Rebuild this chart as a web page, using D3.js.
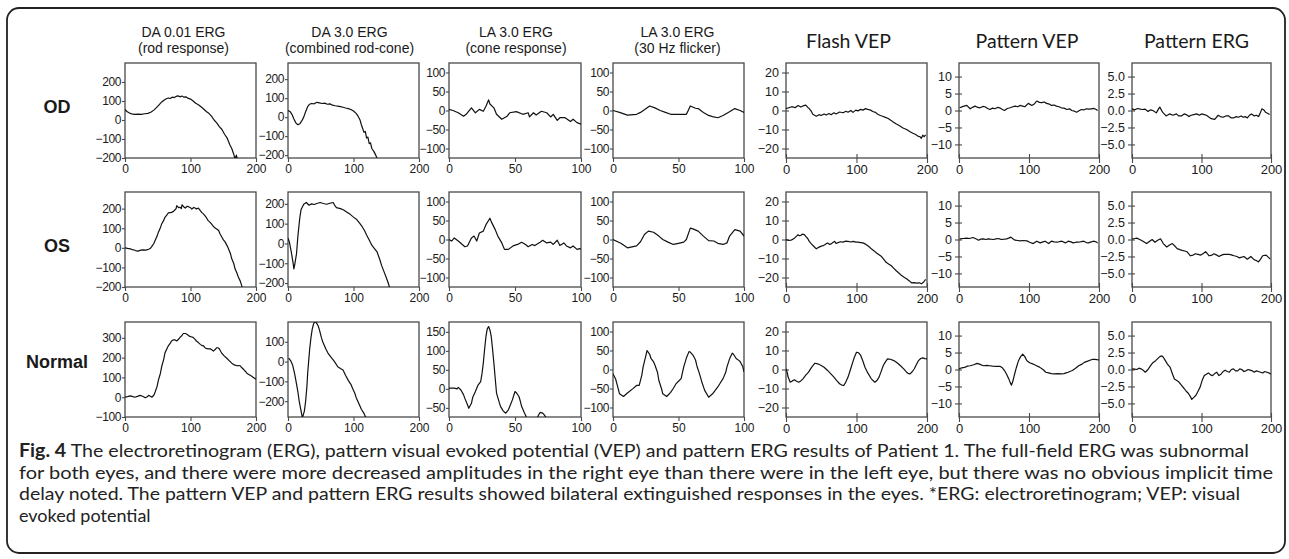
<!DOCTYPE html>
<html>
<head>
<meta charset="utf-8">
<script src="https://cdn.jsdelivr.net/npm/d3@7"></script>
<style>
  body { margin: 0; background: #fff; }
  svg { display: block; }
</style>
</head>
<body>
<svg id="fig" width="1289" height="559"></svg>
<script>
// row / column labels
const rowLabels = ['OD', 'OS', 'Normal']
const colTitles = [
  ['DA 0.01 ERG', '(rod response)'],
  ['DA 3.0 ERG', '(combined rod-cone)'],
  ['LA 3.0 ERG', '(cone response)'],
  ['LA 3.0 ERG', '(30 Hz flicker)'],
  ['Flash VEP'],
  ['Pattern VEP'],
  ['Pattern ERG']
]

// x domains + ticks (ms)
const xLong = [0, 200]
const xShort = [0, 100]
const xTicksLong = [0, 100, 200]
const xTicksShort = [0, 50, 100]

// y domains per row (uV)
const yDomOD = [[-200, 300], [-215, 285], [-125, 125], [-125, 125], [-25, 25], [-14, 14], [-7, 7]]
const yDomOS = [[-200, 285], [-220, 260], [-125, 125], [-125, 125], [-25, 25], [-14, 14], [-7, 7]]
const yDomNL = [[-100, 380], [-280, 200], [-74, 176], [-125, 125], [-25, 25], [-14, 14], [-7, 7]]

const yTicksRod = [-200, -100, 0, 100, 200]
const yTicksRodNL = [-100, 0, 100, 200, 300]
const yTicksMixNL = [-200, -100, 0, 100]
const yTicksCone = [-100, -50, 0, 50, 100]
const yTicksConeNL = [-50, 0, 50, 100, 150]
const yTicksFlash = [-20, -10, 0, 10, 20]
const yTicksPVep = [-10, -5, 0, 5, 10]
const yTicksPErg = [-5, -2.5, 0, 2.5, 5]

// ---- traces, [ms, uV] ----
const odRod = [[0,55],[3,45],[6,38],[10,32],[15,30],[20,31],[25,30],[30,33],[35,35],[40,42],[44,52],[48,65],[52,80],[56,95],[60,105],[63,112],[66,116],[69,113],[72,120],[75,118],[78,124],[81,127],[84,122],[87,126],[90,120],[93,122],[96,115],[100,110],[104,100],[108,88],[112,80],[116,70],[120,58],[124,45],[128,35],[132,20],[136,0],[140,-15],[144,-35],[148,-50],[152,-75],[156,-95],[160,-130],[163,-150],[166,-180],[168,-205],[170,-185],[172,-210]]
const odMixed = [[0,35],[3,30],[6,15],[9,-10],[12,-30],[15,-40],[18,-35],[21,-20],[24,0],[27,30],[30,55],[33,68],[36,72],[40,70],[44,78],[48,75],[52,72],[56,74],[60,68],[64,70],[68,63],[72,60],[76,58],[80,55],[84,52],[88,48],[92,45],[96,40],[100,32],[104,20],[107,5],[110,-15],[112,-40],[114,-60],[116,-80],[118,-75],[120,-110],[122,-105],[124,-140],[126,-135],[128,-165],[131,-180],[134,-200],[137,-225]]
const odCone = [[0,3],[3,0],[7,-6],[11,-15],[13,-10],[17,7],[20,-6],[23,3],[26,-2],[28,11],[30,28],[31,17],[34,7],[36,-10],[40,-23],[44,-15],[46,-6],[51,-3],[56,-10],[60,-6],[61,-17],[64,-6],[66,-12],[70,-2],[74,-6],[77,-17],[79,-10],[82,-26],[84,-19],[88,-19],[92,-29],[94,-23],[97,-32],[100,-36]]
const odFlicker = [[0,0],[5,-5],[11,-12],[18,-10],[21,-5],[24,2],[28,12],[32,7],[36,0],[40,-5],[44,-10],[49,-10],[56,-10],[57,-3],[59,12],[63,6],[65,5],[69,-5],[73,-13],[76,-16],[80,-19],[84,-13],[88,-5],[93,5],[97,0],[100,-5]]
const odFlashVep = [[0,1],[5,1.6],[9,2],[13,1.5],[17,2.6],[21,1.8],[24,2.4],[28,2.8],[31,1.6],[33,1],[36,-0.5],[38,-2],[43,-3],[47,-2.2],[50,-2.6],[54,-1.8],[57,-2.4],[61,-1.6],[64,-2.2],[68,-1.2],[71,-1.8],[76,-0.8],[81,-1.2],[85,-0.4],[88,-0.9],[92,0],[95,-1],[99,0.2],[102,-0.2],[106,0.6],[109,0.2],[113,1],[116,0.6],[120,0.2],[123,-0.5],[127,-1],[130,-2],[134,-2.6],[137,-3],[141,-3.6],[145,-4.2],[149,-5.2],[152,-6],[156,-7],[161,-8],[166,-9.2],[171,-10],[176,-11.2],[180,-12],[184,-12.6],[187,-13.5],[190,-13.8],[192,-14.6],[194,-13],[196,-13.8],[198,-12.8]]
const odPatVep = [[1,0.8],[6,1.2],[11,1.5],[16,0.5],[20,1],[23,1.3],[27,0.9],[30,0.8],[34,1.2],[37,1.1],[41,0.6],[44,0.3],[48,0.7],[51,0.5],[55,0.9],[58,0.8],[62,0.3],[65,0],[69,0.6],[73,0.8],[77,1.1],[80,1.3],[84,1.1],[87,1.5],[91,1.3],[94,1.1],[99,2.1],[104,1.5],[108,2],[111,2.8],[115,2.4],[118,2.3],[122,2.5],[125,2.1],[129,1.9],[132,1.5],[136,1.6],[139,1.3],[143,1.1],[146,0.8],[150,0.7],[154,0.3],[158,0.5],[161,0],[165,-0.2],[168,-0.5],[172,0],[175,0.3],[179,0.2],[182,0.5],[186,0.4],[189,0.5],[193,0.6],[196,0.3],[198,0]]
const odPatErg = [[0,0.24],[4,0.1],[8,0.3],[12,0.2],[15,0.15],[19,0.2],[23,-0.15],[27,0.1],[30,0],[35,-0.35],[38,0.2],[40,0.5],[44,-0.25],[49,-0.8],[54,-0.5],[59,-0.7],[64,-0.5],[67,-0.8],[71,-0.8],[75,-0.5],[78,-0.6],[82,-0.9],[85,-0.7],[89,-0.6],[93,-0.5],[97,-0.7],[100,-0.5],[104,-0.6],[107,-0.7],[111,-1],[114,-1.2],[119,-1.3],[124,-0.7],[127,-0.9],[131,-1],[135,-0.8],[139,-0.8],[143,-1.1],[146,-1.1],[150,-0.9],[153,-1],[157,-0.8],[160,-1],[163,-0.9],[166,-1.1],[169,-0.7],[172,-0.5],[176,-0.8],[179,-0.7],[182,-0.9],[184,-0.5],[187,0.25],[190,0.05],[192,-0.25],[195,-0.4],[198,-0.6]]

const osRod = [[0,0],[4,-3],[8,-5],[11,-9],[13,-10],[16,-14],[20,-17],[24,-12],[28,-10],[32,-12],[36,-7],[39,-2],[41,7],[44,22],[46,37],[49,60],[51,80],[54,102],[56,122],[59,140],[61,156],[64,168],[66,178],[69,180],[71,181],[74,186],[76,193],[78,200],[79,215],[82,205],[84,207],[86,200],[87,220],[90,208],[92,203],[95,212],[97,210],[100,205],[102,198],[105,206],[107,203],[109,198],[112,203],[115,190],[117,181],[120,172],[122,164],[125,150],[127,139],[130,130],[132,122],[135,110],[137,102],[140,96],[143,88],[145,72],[148,54],[150,42],[153,29],[156,10],[158,-5],[161,-30],[163,-56],[166,-80],[168,-107],[171,-130],[173,-149],[176,-170],[178,-192],[181,-220]]
const osMixed = [[0,26],[2,9],[5,-43],[8,-103],[9,-129],[10,-112],[13,-52],[15,34],[18,129],[20,172],[24,198],[28,207],[32,193],[36,200],[40,197],[44,202],[49,207],[54,202],[59,198],[64,203],[69,207],[71,194],[74,181],[80,176],[85,169],[90,158],[95,147],[100,133],[105,121],[109,104],[113,86],[117,64],[120,43],[124,17],[128,-9],[132,-26],[136,-43],[140,-80],[143,-112],[147,-146],[151,-181],[153,-200],[156,-233]]
const osCone = [[0,0],[2,-4],[4,4],[7,-4],[9,-10],[12,-19],[14,-17],[17,4],[19,9],[21,-4],[23,17],[26,22],[28,39],[31,56],[32,47],[35,26],[37,9],[40,-9],[42,-26],[45,-26],[49,-16],[52,-13],[55,-7],[58,-13],[60,-19],[63,-13],[65,-16],[69,-7],[71,-2],[74,-9],[77,-7],[79,-13],[82,-2],[84,-16],[87,-9],[89,-17],[92,-22],[94,-17],[97,-26],[99,-24],[100,-25]]
const osFlicker = [[0,0],[6,-10],[11,-22],[18,-17],[21,-6],[24,13],[27,22],[31,19],[35,9],[38,0],[42,-7],[46,-13],[50,-10],[54,-7],[56,0],[59,30],[61,28],[65,22],[69,9],[73,-3],[77,-4],[80,-10],[84,-13],[87,-9],[89,9],[93,26],[97,22],[100,9]]
const osFlashVep = [[0,0],[4,-0.5],[7,-0.4],[10,0.2],[12,0.7],[15,1.8],[17,2.5],[19,2],[21,2.1],[23,2.8],[26,2.6],[28,1.6],[31,0.4],[33,-1],[36,-2.3],[40,-3.8],[43,-4.9],[47,-4],[50,-3.5],[53,-3.2],[55,-2.8],[57,-2.2],[59,-1.8],[62,-2.6],[64,-2.3],[67,-1.4],[69,-1],[71,-2],[73,-1.8],[77,-1.2],[81,-1.4],[84,-0.9],[88,-1],[92,-1.3],[95,-1],[99,-1.4],[102,-1.4],[106,-1.6],[109,-1.8],[112,-2.3],[114,-2.8],[118,-3.8],[121,-4.9],[125,-6],[128,-7],[132,-8],[135,-8.8],[139,-10.6],[142,-12],[146,-13],[149,-13.7],[153,-15.2],[156,-16.3],[160,-17.6],[164,-19],[168,-20],[171,-20.7],[175,-21.8],[178,-22.8],[182,-22.7],[185,-23],[189,-22.8],[192,-23.3],[195,-22.5],[198,-21]]
const osPatVep = [[1,0.2],[6,0.3],[11,0.4],[15,0.3],[20,0.6],[24,0.2],[28,-0.2],[31,0.1],[35,0.2],[38,0],[42,0.2],[45,0.1],[49,0],[53,0.2],[56,0.3],[59,0.1],[61,0],[65,0.1],[68,0.2],[71,0.4],[74,0.7],[77,0.2],[80,-0.2],[84,-0.3],[87,-0.4],[92,-0.3],[97,-0.4],[101,-0.8],[106,-1.2],[111,-0.5],[116,-1],[120,-0.7],[123,-0.5],[128,-1.2],[132,-0.5],[136,-0.7],[140,-0.8],[144,-0.6],[147,-0.5],[152,-1],[156,-0.5],[160,-0.7],[163,-1],[167,-0.8],[171,-0.8],[175,-0.6],[178,-0.5],[182,-0.9],[185,-1],[189,-0.7],[192,-0.5],[196,-0.7],[198,-1]]
const osPatErg = [[0,0.1],[4,0.15],[7,0.2],[11,0],[14,-0.15],[18,-0.4],[21,-0.6],[25,-0.3],[29,0],[33,-0.4],[37,-0.1],[41,0.1],[45,-0.6],[50,-1.1],[54,-0.8],[58,-0.6],[62,-1],[65,-1.35],[69,-1.5],[72,-1.6],[76,-1.7],[79,-1.8],[84,-2.4],[88,-2.3],[91,-2.1],[95,-2.2],[99,-2.3],[102,-2.1],[106,-1.8],[111,-2.4],[115,-2.3],[118,-2.1],[122,-2.3],[125,-2.5],[129,-2.3],[132,-2.2],[136,-2.2],[140,-2.2],[144,-2.3],[147,-2.4],[151,-2.5],[154,-2.7],[158,-2.6],[161,-2.5],[166,-2.9],[171,-2.5],[176,-3],[179,-3.1],[182,-3.3],[185,-2.9],[188,-2.4],[193,-2.3],[196,-2.6],[199,-2.9]]

const nlRod = [[0,0],[4,3],[8,7],[11,4],[15,0],[19,4],[23,9],[27,5],[31,-3],[34,2],[36,9],[39,5],[41,0],[44,10],[46,26],[49,55],[51,86],[54,120],[56,155],[59,190],[61,224],[64,245],[66,259],[69,272],[71,284],[74,290],[76,290],[79,284],[82,294],[84,302],[87,312],[89,322],[92,322],[94,319],[97,312],[99,307],[102,304],[104,302],[107,292],[109,284],[112,276],[115,267],[117,262],[120,259],[122,250],[125,245],[128,244],[130,245],[133,238],[135,233],[138,242],[140,250],[142,250],[144,245],[146,232],[148,221],[151,210],[155,198],[159,185],[163,172],[167,163],[171,159],[173,160],[176,159],[178,150],[181,141],[184,130],[186,121],[189,115],[193,107],[196,100],[200,91]]
const nlMixed = [[1,17],[4,5],[7,-17],[10,-60],[12,-95],[15,-150],[17,-198],[20,-250],[22,-284],[25,-250],[27,-198],[29,-120],[30,-60],[32,20],[33,60],[35,120],[37,164],[39,190],[41,202],[43,198],[46,181],[48,160],[51,121],[53,100],[56,78],[58,62],[61,43],[65,25],[69,9],[72,-5],[76,-26],[80,-35],[84,-43],[88,-70],[92,-95],[96,-115],[99,-138],[102,-160],[104,-181],[108,-210],[112,-241],[116,-262],[119,-284]]
const nlCone = [[0,2],[4,2],[6,0],[7,4],[9,-3],[11,-15],[12,-25],[14,-42],[15,-51],[17,-38],[18,-22],[20,-7],[22,10],[24,19],[25,40],[26,68],[27,105],[28,138],[29,158],[30,164],[31,155],[32,138],[33,105],[34,68],[35,28],[36,-11],[38,-35],[39,-46],[41,-58],[43,-64],[45,-55],[47,-38],[48,-29],[50,-7],[51,-10],[53,-20],[54,-32],[55,-46],[57,-62],[59,-77],[61,-86],[63,-90],[65,-86],[66,-82],[68,-68],[69,-62],[71,-64],[72,-68],[74,-77]]
const nlFlicker = [[0,-11],[2,-25],[3,-38],[5,-64],[8,-71],[11,-62],[15,-51],[18,-42],[20,-42],[22,-15],[23,7],[25,35],[26,50],[28,40],[29,29],[31,20],[32,12],[34,-8],[35,-29],[37,-50],[38,-64],[41,-71],[44,-60],[46,-50],[48,-38],[50,-31],[52,-24],[54,7],[56,30],[58,47],[59,46],[61,38],[63,25],[64,10],[66,-11],[68,-35],[70,-55],[73,-73],[76,-64],[78,-55],[80,-46],[82,-35],[84,-24],[86,-8],[87,7],[89,28],[91,43],[92,40],[94,29],[96,24],[97,21],[99,8],[100,-6]]
const nlFlashVep = [[0,0.4],[2,-2],[3,-4],[6,-6.7],[9,-6],[12,-5.4],[15,-6.2],[18,-6.7],[21,-6],[24,-4.9],[28,-3],[32,-1.4],[36,1],[41,3.3],[45,3],[50,2.1],[54,1.2],[59,-0.5],[63,-2],[68,-4],[72,-5.8],[76,-7.5],[79,-8.2],[82,-8.4],[85,-6.5],[88,-4],[91,-0.5],[94,3],[97,6.5],[100,9.1],[103,8.8],[106,7.4],[109,4.5],[112,1.2],[116,-1.8],[121,-4.9],[126,-6.7],[129,-5.8],[132,-4],[135,-1],[138,2.1],[141,4],[144,5.6],[148,5.4],[153,4.7],[158,3.4],[162,2.1],[167,0.3],[171,-1.4],[174,-2.2],[176,-2.3],[179,-1.2],[182,0.4],[185,2.6],[188,4.7],[191,5.8],[194,6.1],[197,5.7],[200,5.6]]
const nlPatVep = [[0,0.2],[4,0.5],[8,0.6],[12,1],[16,1.1],[21,1.4],[26,1.8],[30,1.5],[35,1.1],[40,1.2],[44,1.1],[48,1],[53,0.9],[59,0.9],[62,0.5],[65,-0.3],[68,-1.4],[71,-2.7],[73,-3.8],[75,-4.6],[77,-3.4],[79,-1.7],[82,0.6],[85,2.6],[88,3.8],[91,4.5],[94,3.8],[97,2.6],[101,2],[106,1.6],[110,1.2],[115,0.7],[120,0],[124,-0.8],[128,-1],[132,-1.2],[136,-1.3],[141,-1.2],[146,-1.3],[150,-1.2],[153,-1],[156,-0.8],[159,-0.5],[162,-0.3],[166,0.3],[171,1.1],[175,1.5],[179,2.1],[183,2.4],[188,2.8],[191,3],[194,3],[197,2.9],[200,2.8]]
const nlPatErg = [[0,0.1],[4,0.05],[7,0],[10,0.2],[13,0.1],[16,-0.1],[19,-0.4],[23,0],[27,0.6],[30,1],[34,1.3],[37,1.6],[40,1.9],[43,2],[45,1.8],[48,1.3],[51,0.8],[55,0.3],[58,-0.6],[61,-1.4],[64,-1.6],[67,-1.8],[71,-2.3],[75,-2.8],[78,-3.2],[81,-3.5],[84,-4],[86,-4.4],[89,-4.1],[92,-3.8],[95,-3.2],[98,-2.6],[101,-1.6],[104,-0.9],[107,-0.7],[110,-0.5],[113,-0.8],[116,-0.9],[119,-0.6],[122,-0.4],[125,-0.9],[128,-0.7],[131,-0.3],[134,-0.1],[137,-0.3],[140,-0.4],[143,0],[146,0.1],[149,-0.2],[152,-0.2],[155,0.1],[158,0],[161,-0.3],[164,-0.2],[167,0],[170,-0.1],[173,-0.2],[176,-0.4],[179,-0.2],[182,-0.3],[185,-0.4],[188,-0.5],[191,-0.3],[194,-0.4],[197,-0.5],[200,-0.7]]

const traces = [
  [odRod, odMixed, odCone, odFlicker, odFlashVep, odPatVep, odPatErg],
  [osRod, osMixed, osCone, osFlicker, osFlashVep, osPatVep, osPatErg],
  [nlRod, nlMixed, nlCone, nlFlicker, nlFlashVep, nlPatVep, nlPatErg]
]
const yDoms = [yDomOD, yDomOS, yDomNL]
const yTicks = [
  [yTicksRod, yTicksRod, yTicksCone, yTicksCone, yTicksFlash, yTicksPVep, yTicksPErg],
  [yTicksRod, yTicksRod, yTicksCone, yTicksCone, yTicksFlash, yTicksPVep, yTicksPErg],
  [yTicksRodNL, yTicksMixNL, yTicksConeNL, yTicksCone, yTicksFlash, yTicksPVep, yTicksPErg]
]

const captionFirst = 'The electroretinogram (ERG), pattern visual evoked potential (VEP) and pattern ERG results of Patient 1. The full-field ERG was subnormal'
const captionLines = [
  'for both eyes, and there were more decreased amplitudes in the right eye than there were in the left eye, but there was no obvious implicit time',
  'delay noted. The pattern VEP and pattern ERG results showed bilateral extinguished responses in the eyes. *ERG: electroretinogram; VEP: visual',
  'evoked potential'
]

// ---- layout ----
const colX = [[125, 256], [288, 419], [449, 581], [613, 744], [786, 927], [959, 1099], [1132, 1271]]
const rowY = [[63, 158], [192, 287], [322, 417]]
const rowLabelY = [113, 252, 368]
const titleDx = [-7, -4, 1, -1, -8, -2, -5]
const capLeft = 19
const capRight = [1249, 1273, 1240]   // right ends of the full caption lines

const svg = d3.select('#fig')
const ink = '#1a1a1a'
const frameCol = '#4a4a4a'

svg.append('rect')
  .attr('x', 7).attr('y', 8)
  .attr('width', 1278).attr('height', 545)
  .attr('rx', 12)
  .attr('fill', 'none').attr('stroke', '#222').attr('stroke-width', 1.8)

const defs = svg.append('defs')

// titles
colTitles.forEach((t, c) => {
  const cx = (colX[c][0] + colX[c][1]) / 2 + titleDx[c]
  if (t.length === 2) {
    t.forEach((line, i) => {
      svg.append('text')
        .attr('x', cx).attr('y', 37 + i * 16)
        .attr('text-anchor', 'middle')
        .attr('font-family', 'Liberation Sans, Arial, sans-serif')
        .attr('font-size', 14)
        .attr('fill', ink)
        .text(line)
    })
  } else {
    svg.append('text')
      .attr('x', cx).attr('y', 48)
      .attr('text-anchor', 'middle')
      .attr('font-family', 'Lato, Carlito, sans-serif')
      .attr('font-size', 19.5)
      .attr('fill', ink)
      .text(t[0])
  }
})

rowLabels.forEach((lab, r) => {
  svg.append('text')
    .attr('x', 57).attr('y', rowLabelY[r])
    .attr('text-anchor', 'middle')
    .attr('font-family', 'Liberation Sans, Arial, sans-serif')
    .attr('font-weight', 'bold')
    .attr('font-size', 18)
    .attr('fill', ink)
    .text(lab)
})

const fmtPErg = d3.format('.1f')

traces.forEach((row, r) => {
  row.forEach((data, c) => {
    const [x0, x1] = colX[c]
    const [y0, y1] = rowY[r]
    const isVep = c >= 4
    const short = c === 2 || c === 3
    const x = d3.scaleLinear().domain(short ? xShort : xLong).range([x0, x1])
    const y = d3.scaleLinear().domain(yDoms[r][c]).range([y1, y0])

    const id = `clip-${r}-${c}`
    defs.append('clipPath').attr('id', id)
      .append('rect').attr('x', x0).attr('y', y0)
      .attr('width', x1 - x0).attr('height', y1 - y0)

    const g = svg.append('g')

    // y axis
    const yAxis = d3.axisLeft(y)
      .tickValues(yTicks[r][c])
      .tickSize(isVep ? 4 : 3)
      .tickPadding(isVep ? 3 : 1)
      .tickFormat(c === 6 ? fmtPErg : d3.format('d'))
    const ya = g.append('g').attr('transform', `translate(${x0},0)`).call(yAxis)
    ya.select('.domain').remove()
    ya.selectAll('line').attr('stroke', frameCol).attr('stroke-width', 1.1)
    if (isVep) ya.selectAll('line').attr('x2', -4).attr('x1', 3)
    ya.selectAll('text')
      .attr('font-family', 'Liberation Sans, Arial, sans-serif')
      .attr('font-size', isVep ? 12.5 : 12)
      .attr('letter-spacing', isVep ? 0 : -0.4)
      .attr('fill', ink)

    // x axis
    const xAxis = d3.axisBottom(x)
      .tickValues(short ? xTicksShort : xTicksLong)
      .tickSize(4)
      .tickPadding(isVep ? 3 : 2)
    const xa = g.append('g').attr('transform', `translate(0,${y1})`).call(xAxis)
    xa.select('.domain').remove()
    xa.selectAll('line').attr('stroke', frameCol).attr('stroke-width', 1.1)
    if (isVep) xa.selectAll('line').attr('y1', -4).attr('y2', 5)
    xa.selectAll('text')
      .attr('font-family', 'Liberation Sans, Arial, sans-serif')
      .attr('font-size', isVep ? 13 : 12)
      .attr('fill', ink)

    // frame
    g.append('rect')
      .attr('x', x0).attr('y', y0)
      .attr('width', x1 - x0).attr('height', y1 - y0)
      .attr('fill', 'none').attr('stroke', frameCol).attr('stroke-width', 1.3)

    const line = d3.line().x(d => x(d[0])).y(d => y(d[1]))
    g.append('path')
      .datum(data)
      .attr('clip-path', `url(#${id})`)
      .attr('d', line)
      .attr('fill', 'none')
      .attr('stroke', '#111')
      .attr('stroke-width', 1.2)
      .attr('stroke-linejoin', 'round')
  })
})

// caption
const cap = svg.append('g')
  .attr('font-family', 'Lato, Carlito, sans-serif')
  .attr('font-size', 18)
  .attr('fill', '#222')
const capBase = 457
const capStep = 21.5
const first = cap.append('text').attr('x', capLeft).attr('y', capBase)
  .attr('textLength', capRight[0] - capLeft).attr('lengthAdjust', 'spacingAndGlyphs')
first.append('tspan').attr('font-weight', 'bold').text('Fig. 4')
first.append('tspan').text(' ' + captionFirst)
captionLines.forEach((t, i) => {
  const txt = cap.append('text').attr('x', capLeft).attr('y', capBase + (i + 1) * capStep).text(t)
  if (i < 2) txt.attr('textLength', capRight[i + 1] - capLeft).attr('lengthAdjust', 'spacingAndGlyphs')
})
</script>
</body>
</html>
